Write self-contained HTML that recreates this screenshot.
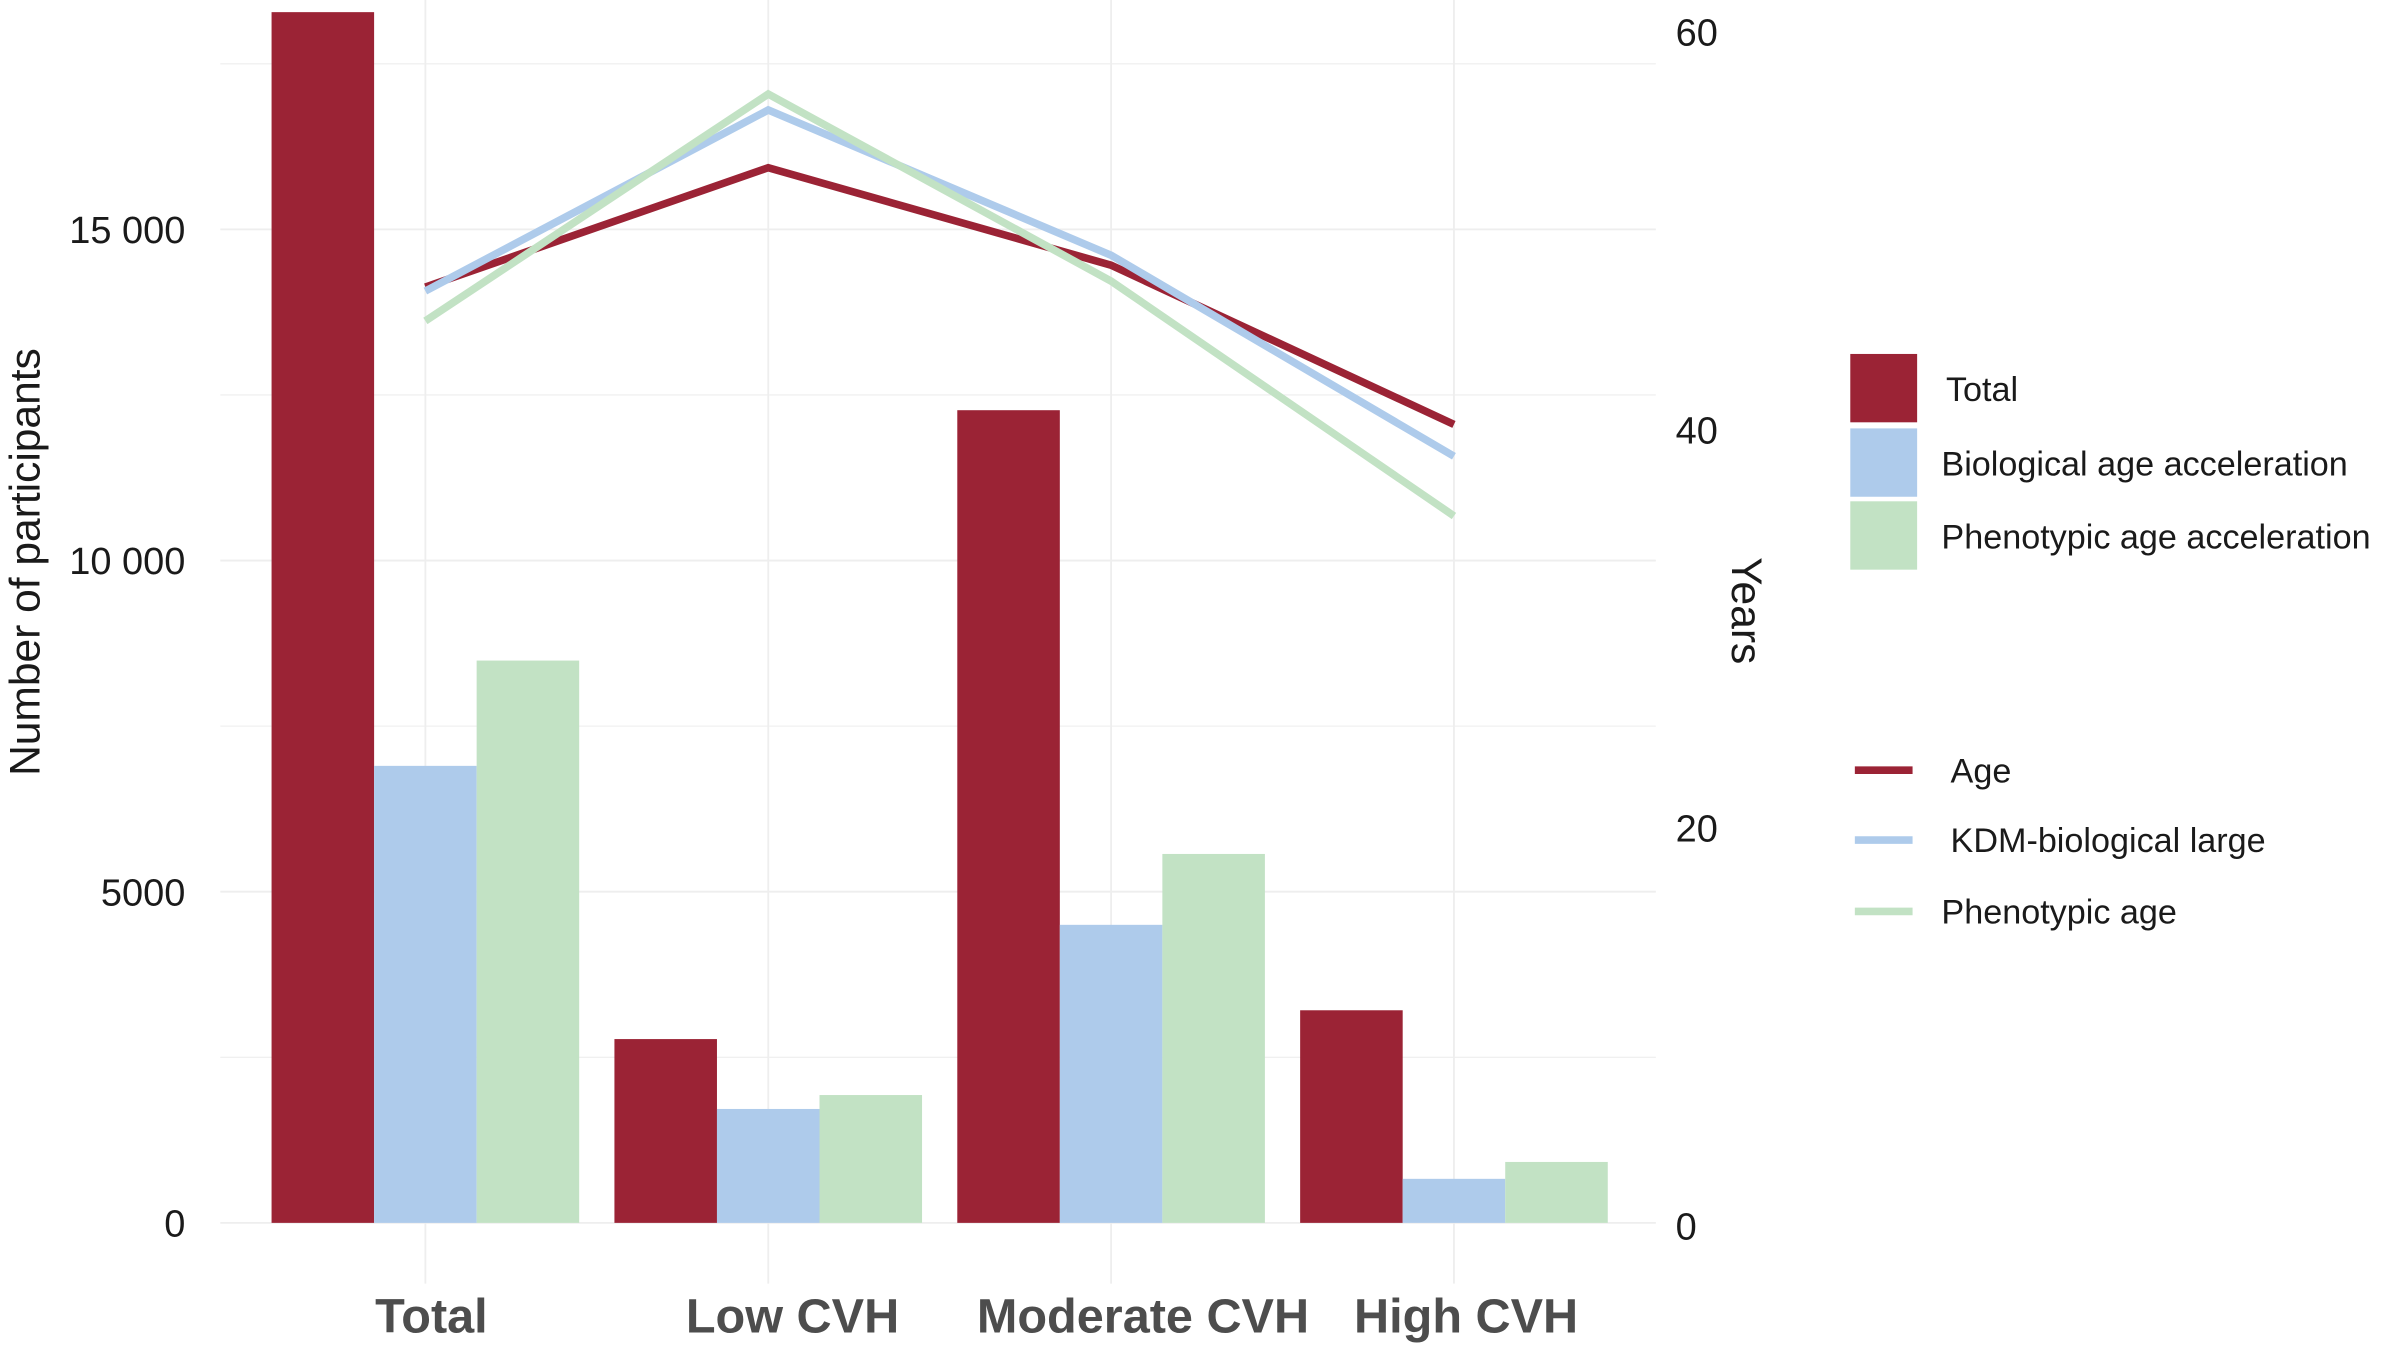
<!DOCTYPE html>
<html><head><meta charset="utf-8"><style>
html,body{margin:0;padding:0;background:#fff}
svg{display:block;font-family:"Liberation Sans",Arial,sans-serif}
</style></head><body>
<svg id="chart" width="2382" height="1352" viewBox="0 0 1568 890" xmlns="http://www.w3.org/2000/svg"></svg>
<script>
const categories = ["Total","Low CVH","Moderate CVH","High CVH"];
const seriesNames = ["Total","Biological age acceleration","Phenotypic age acceleration"];
const barTotal = [18280, 2775, 12270, 3210];
const barBio = [6900, 1720, 4500, 665];
const barPheno = [8490, 1930, 5570, 920];
const lineNames = ["Age","KDM-biological large","Phenotypic age"];
const lineAge = [47.1, 53.1, 48.2, 40.2];
const lineKDM = [46.9, 56.0, 48.7, 38.6];
const linePheno = [45.4, 56.8, 47.4, 35.6];
const leftTicks = [0, 5000, 10000, 15000];
const leftTickLabels = ["0","5000","10 000","15 000"];
const rightTicks = [0, 20, 40, 60];
const colors = ["#9b2335","#aecbeb","#c2e2c4"];
const labelOffsets = [4, 16, 21, 8];

const svg = document.getElementById('chart');
const NS = "http://www.w3.org/2000/svg";
function mk(tag, attrs, parent){const e=document.createElementNS(NS,tag);for(const k in attrs)e.setAttribute(k,attrs[k]);(parent||svg).appendChild(e);return e;}
const yL = v => 805 - v/5000*218;
const yR = v => 806 - v/60*786;
const xC = i => 280 + i*225.7;
const bw = 67.5;

for(let v=0; v<=17500; v+=2500){
  const g=mk('line',{x1:145,x2:1090,y1:yL(v),y2:yL(v),stroke:'#eeeeee','stroke-width':v%5000===0?1.2:0.7});
  
  
}
categories.forEach((c,i)=>{
  const g=mk('line',{x1:xC(i),x2:xC(i),y1:0,y2:845,stroke:'#eeeeee','stroke-width':1.2});
  
  
});

const barSets=[barTotal,barBio,barPheno];
categories.forEach((c,i)=>{
  barSets.forEach((arr,s)=>{
    const x=xC(i)-1.5*bw+s*bw;
    const r=mk('rect',{x:x,y:yL(arr[i]),width:bw,height:yL(0)-yL(arr[i]),fill:colors[s]});
    
    
  });
});

[lineAge,lineKDM,linePheno].forEach((arr,s)=>{
  const pts=arr.map((v,i)=>xC(i)+','+yR(v)).join(' ');
  const p=mk('polyline',{points:pts,fill:'none',stroke:colors[s],'stroke-width':5});
  
  
});

leftTicks.forEach((v,i)=>{
  const t=mk('text',{x:122,y:yL(v)+9,'text-anchor':'end','font-size':25,fill:'#1a1a1a'});
  t.textContent=leftTickLabels[i];
  
  
});
rightTicks.forEach(v=>{
  const t=mk('text',{x:1103,y:yR(v)+10,'font-size':25,fill:'#1a1a1a'});
  t.textContent=String(v);
  
  
});
categories.forEach((c,i)=>{
  const t=mk('text',{x:xC(i)+labelOffsets[i],y:877,'text-anchor':'middle','font-size':32,'font-weight':'bold',fill:'#4d4d4d'});
  t.textContent=c;
  
  
});

let t=mk('text',{x:0,y:0,transform:'translate(26,370) rotate(-90)','text-anchor':'middle','font-size':28,fill:'#1a1a1a'});
t.textContent='Number of participants';


t=mk('text',{x:0,y:0,transform:'translate(1140,402) rotate(90)','text-anchor':'middle','font-size':28,fill:'#1a1a1a'});
t.textContent='Years';



const legY=[233,282,330];
seriesNames.forEach((n,s)=>{
  const r=mk('rect',{x:1218,y:legY[s],width:44,height:45,fill:colors[s]});
  
  
  const tx=mk('text',{x:s===0?1281:1278,y:legY[s]+31,'font-size':22.5,fill:'#1a1a1a'});
  tx.textContent=n;
  
  
});
const legLY=[507,553,600];
lineNames.forEach((n,s)=>{
  const l=mk('line',{x1:1221,x2:1259,y1:legLY[s],y2:legLY[s],stroke:colors[s],'stroke-width':5});
  
  
  const tx=mk('text',{x:s===2?1278:1284,y:legLY[s]+8,'font-size':22.5,fill:'#1a1a1a'});
  tx.textContent=n;
  
  
});
</script>
</body></html>
